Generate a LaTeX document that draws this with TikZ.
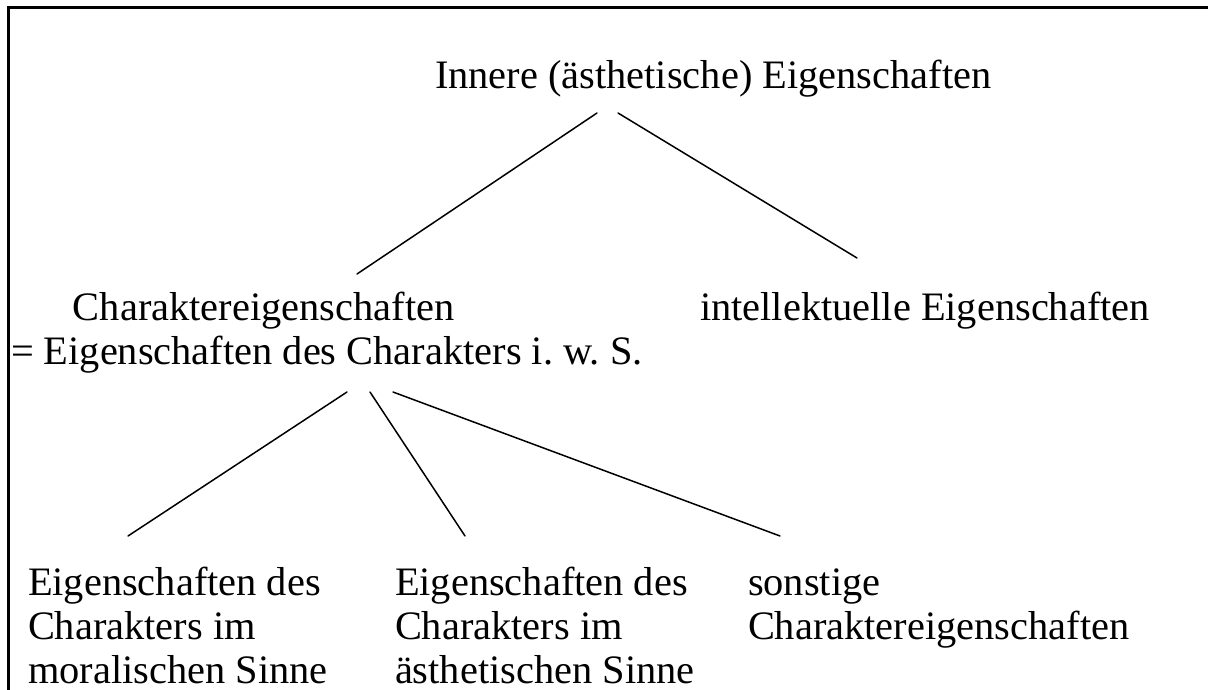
\documentclass[tikz,border=0pt]{standalone}
\usepackage{fontspec}
\setmainfont{Liberation Serif}
\usetikzlibrary{calc}
\newcommand{\fsz}{\fontsize{40.4pt}{44pt}\selectfont\frenchspacing}
\begin{document}
\begin{tikzpicture}[x=1pt,y=-1pt,
  lbl/.style={inner sep=0pt, outer sep=0pt, anchor=north west, align=left, font=\fsz},
  conn/.style={line width=1.5pt, line cap=round},
  frame/.style={line width=3pt, line join=miter}]
\useasboundingbox (0,0) rectangle (1208,690);
\draw[frame] (8,692) -- (8,7.5) -- (1210,7.5);

\node[lbl] (root) at (435,58.2) {\strut Innere (ästhetische) Eigenschaften};
\node[lbl] (char) at (11,289.2) {\strut\hspace*{62pt}Charaktereigenschaften\\\strut = Eigenschaften des Charakters i. w. S.};
\node[lbl] (intel) at (700,289.2) {\strut intellektuelle Eigenschaften};
\node[lbl] (moral) at (28,564.2) {\strut Eigenschaften des\\\strut Charakters im\\\strut moralischen Sinne};
\node[lbl] (aesth) at (395,564.2) {\strut Eigenschaften des\\\strut Charakters im\\\strut ästhetischen Sinne};
\node[lbl] (sonst) at (748,564.2) {\strut sonstige\\\strut Charaktereigenschaften};

\draw[conn] ($(root.north west)+(162,54.8)$) -- ($(char.north west)+(346,-15.2)$);
\draw[conn] ($(root.north west)+(183,54.8)$) -- ($(intel.north west)+(157,-31.2)$);
\draw[conn] ($(char.north west)+(336,102.8)$) -- ($(moral.north west)+(100,-28.2)$);
\draw[conn] ($(char.north west)+(359,102.8)$) -- ($(aesth.north west)+(70,-28.2)$);
\draw[conn] ($(char.north west)+(382,102.8)$) -- ($(sonst.north west)+(32,-28.2)$);
\end{tikzpicture}
\end{document}
